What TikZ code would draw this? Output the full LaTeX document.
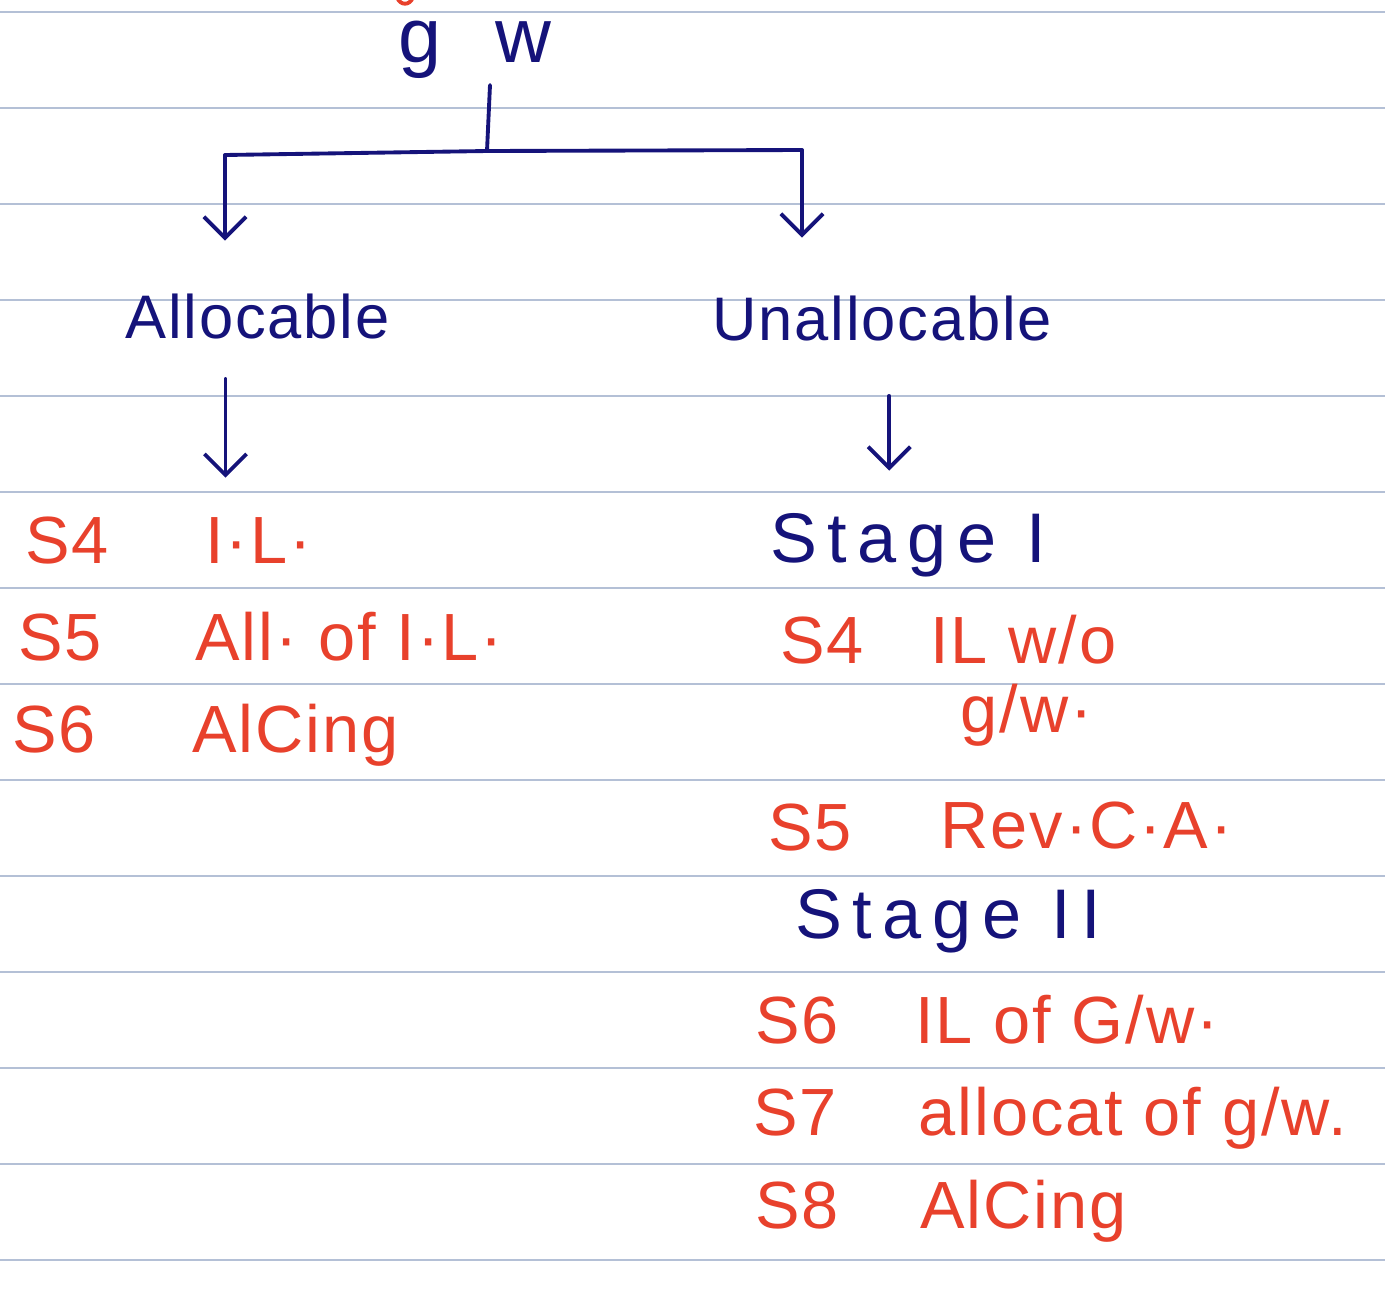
\documentclass[tikz,border=0pt]{standalone}
\usepackage{fontspec}
\setmainfont{Liberation Sans}
\newfontfamily\hand{Liberation Sans}[LetterSpace=3]
\usetikzlibrary{arrows.meta,positioning,calc}
\definecolor{inkblue}{HTML}{15137A}
\definecolor{inkred}{HTML}{E8412C}
\definecolor{ruleg}{HTML}{B4C0D6}
\tikzset{
  hw/.style={inner sep=0pt, anchor=base west},
  head/.style={hw, text=inkblue, font=\hand\fontsize{35}{40}\selectfont},
  stagehd/.style={hw, text=inkblue, font=\hand\fontsize{40}{46}\selectfont\addfontfeature{LetterSpace=15}},
  note/.style={hw, text=inkred, font=\hand\fontsize{38}{44}\selectfont},
  fl/.style={draw=inkblue, line width=2.2pt, line cap=round},
  arr/.style={fl, -{Straight Barb[length=12pt,width=24pt]}},
  rl/.style={draw=ruleg, line width=1pt},
}
\begin{document}
\begin{tikzpicture}[x=0.02cm, y=-0.02cm]
  \useasboundingbox (0,0) rectangle (1385,1302);
  % ruled paper
  \foreach \y in {12,108,...,1261} \draw[rl] (0,\y) -- (1385,\y);
  \draw[draw=inkred, line width=2.2pt] (397,-3) .. controls (400,6) and (410,6) .. (413,-3);

  % tree
  \node[hw, text=inkblue, font=\hand\fontsize{44}{50}\selectfont\addfontfeature{LetterSpace=70}] (gw) at (398,62) {gw};
  \coordinate (stem) at (490,85);
  \coordinate (jn) at (487,151);
  \coordinate (bl) at (225,155);
  \coordinate (br) at (802,150);
  \draw[fl] (stem) -- (jn);
  \draw[fl] (bl) -- (jn) -- (br);

  \node[head] (alloc) at (125,338) {Allocable};
  \node[head] (unalloc) at (712,340) {Unallocable};
  \draw[arr, shorten >=1.05cm] (bl) -- (bl |- alloc.north);
  \draw[arr, shorten >=1.15cm] (br) -- (br |- unalloc.north);

  % allocable side
  \node[note] (s4a) at (25,563) {S4};
  \node[note] (il) at (205,563) {I·L·};
  \node[note] (s5a) at (18,660) {S5};
  \node[note] (allil) at (195,660) {All· of I·L·};
  \node[note] (s6a) at (12,752) {S6};
  \node[note] (alc) at (192,752) {AlCing};
  \draw[arr, shorten <=0.8cm, shorten >=0.78cm] ([xshift=-0.64cm]alloc.south) -- ([xshift=-0.64cm]alloc.south |- il.north);

  % unallocable side
  \node[stagehd] (stage1) at (770,562) {Stage I};
  \node[note] (s4b) at (780,663) {S4};
  \node[note] (ilwo) at (930,663) {IL w/o};
  \node[note] (gwa) at (960,732) {g/w·};
  \node[note] (s5b) at (768,850) {S5};
  \node[note] (rev) at (940,848) {Rev·C·A·};
  \node[stagehd] (stage2) at (795,938) {Stage II};
  \node[note] (s6b) at (755,1043) {S6};
  \node[note] (ilof) at (915,1043) {IL of G/w·};
  \node[note] (s7b) at (753,1135) {S7};
  \node[note] (allocat) at (918,1135) {allocat of g/w.};
  \node[note] (s8b) at (755,1228) {S8};
  \node[note] (alc2) at (920,1228) {AlCing};
  \draw[arr, shorten <=1.1cm, shorten >=0.84cm] ([xshift=0.14cm]unalloc.south) -- ([xshift=0.14cm]unalloc.south |- stage1.north);
\end{tikzpicture}
\end{document}
